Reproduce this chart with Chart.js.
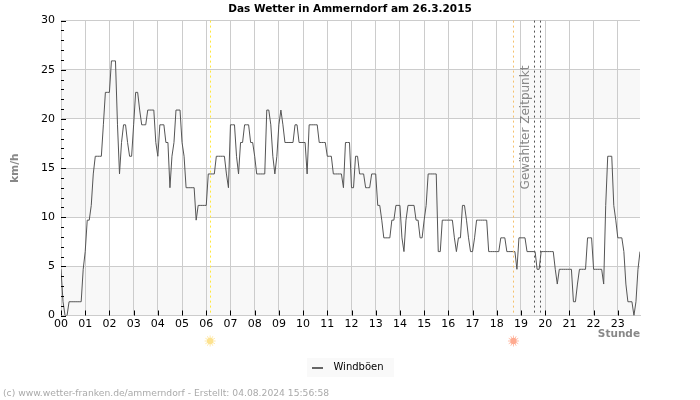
<!DOCTYPE html>
<html>
<head>
<meta charset="utf-8">
<title>Das Wetter in Ammerndorf</title>
<script src="https://cdn.jsdelivr.net/npm/chart.js@4"></script>
<style>
  html, body { margin: 0; padding: 0; background: #fff; }
  canvas { display: block; }
</style>
</head>
<body>
<canvas id="wetterChart" width="700" height="400"></canvas>
<script>
// Windboeen, one row per hour, 5 minute samples (km/h)
const windboeen = [
  4.7,1.4,0,0,1.4,1.4,1.4,1.4,1.4,1.4,1.4,4.7,
  6.5,9.7,9.7,11.2,14.4,16.2,16.2,16.2,16.2,19.4,22.7,22.7,
  22.7,25.9,25.9,25.9,19.4,14.4,17.6,19.4,19.4,17.6,16.2,16.2,
  19.4,22.7,22.7,20.9,19.4,19.4,19.4,20.9,20.9,20.9,20.9,17.6,
  16.2,19.4,19.4,19.4,17.6,17.6,13,16.2,17.6,20.9,20.9,20.9,
  17.6,16.2,13,13,13,13,13,9.7,11.2,11.2,11.2,11.2,
  11.2,14.4,14.4,14.4,14.4,16.2,16.2,16.2,16.2,16.2,14.4,13,
  19.4,19.4,19.4,16.2,14.4,17.6,17.6,19.4,19.4,19.4,17.6,17.6,
  16.2,14.4,14.4,14.4,14.4,14.4,20.9,20.9,19.4,16.2,14.4,16.2,
  19.4,20.9,19.4,17.6,17.6,17.6,17.6,17.6,19.4,19.4,17.6,17.6,
  17.6,17.6,14.4,19.4,19.4,19.4,19.4,19.4,17.6,17.6,17.6,17.6,
  16.2,16.2,16.2,14.4,14.4,14.4,14.4,14.4,13,17.6,17.6,17.6,
  13,13,16.2,16.2,14.4,14.4,14.4,13,13,13,14.4,14.4,
  14.4,11.2,11.2,9.7,7.9,7.9,7.9,7.9,9.7,9.7,11.2,11.2,
  11.2,7.9,6.5,9.7,11.2,11.2,11.2,11.2,9.7,9.7,7.9,7.9,
  9.7,11.2,14.4,14.4,14.4,14.4,14.4,6.5,6.5,9.7,9.7,9.7,
  9.7,9.7,9.7,7.9,6.5,7.9,7.9,11.2,11.2,9.7,7.9,6.5,
  6.5,7.9,9.7,9.7,9.7,9.7,9.7,9.7,6.5,6.5,6.5,6.5,
  6.5,6.5,7.9,7.9,7.9,6.5,6.5,6.5,6.5,6.5,4.7,7.9,
  7.9,7.9,7.9,6.5,6.5,6.5,6.5,6.5,4.7,4.7,6.5,6.5,
  6.5,6.5,6.5,6.5,6.5,4.7,3.2,4.7,4.7,4.7,4.7,4.7,
  4.7,4.7,1.4,1.4,3.2,4.7,4.7,4.7,4.7,7.9,7.9,7.9,
  4.7,4.7,4.7,4.7,4.7,3.2,11.2,16.2,16.2,16.2,11.2,9.7,
  7.9,7.9,7.9,6.5,3.2,1.4,1.4,1.4,0,1.4,4.7,6.5
];
const samplesPerHour = 12;
const hourLabels = ['00','01','02','03','04','05','06','07','08','09','10','11',
                    '12','13','14','15','16','17','18','19','20','21','22','23'];
const yTicks = [0, 5, 10, 15, 20, 25, 30];
const shadedBands = [[0, 5], [10, 15], [20, 25]];

// Zeiten der senkrechten Linien (Stunde)
const sonnenaufgang = 6.16;
const sonnenuntergang = 18.69;
const zeitpunktVon = 19.52;
const zeitpunktBis = 19.78;

const points = windboeen.map((v, i) => ({ x: i / samplesPerHour, y: v }));

function drawSun(ctx, x, y, color) {
  ctx.save();
  ctx.strokeStyle = color;
  ctx.fillStyle = color;
  ctx.globalAlpha = 0.75;
  ctx.lineWidth = 1;
  for (let a = 0; a < 12; a++) {
    const ang = a * Math.PI / 6;
    ctx.beginPath();
    ctx.moveTo(x + Math.cos(ang) * 3, y + Math.sin(ang) * 3);
    ctx.lineTo(x + Math.cos(ang) * 5.5, y + Math.sin(ang) * 5.5);
    ctx.stroke();
  }
  ctx.globalAlpha = 1;
  ctx.beginPath();
  ctx.arc(x, y, 3.2, 0, Math.PI * 2);
  ctx.fill();
  ctx.restore();
}

function vLine(chart, hour, color) {
  const ctx = chart.ctx, a = chart.chartArea;
  const x = Math.round(chart.scales.x.getPixelForValue(hour)) + 0.5;
  ctx.save();
  ctx.strokeStyle = color;
  ctx.lineWidth = 1;
  ctx.setLineDash([2, 3]);
  ctx.beginPath();
  ctx.moveTo(x, a.top);
  ctx.lineTo(x, a.bottom);
  ctx.stroke();
  ctx.restore();
}

const bandsPlugin = {
  id: 'bands',
  afterLayout(chart) {
    // Titel und Legende mittig ueber die ganze Breite, nicht nur den Plot
    const t = chart.titleBlock, l = chart.legend;
    t.left += 30; t.right += 30; t.top += 1;
    l.left += 30; l.right += 30; l.top = 357; l.bottom = 378;
  },
  beforeDraw(chart) {
    const ctx = chart.ctx, a = chart.chartArea, y = chart.scales.y;
    ctx.save();
    ctx.fillStyle = '#ffffff';
    ctx.fillRect(0, 0, chart.width, chart.height);
    ctx.fillStyle = '#f8f8f8';
    for (const b of shadedBands) {
      const top = y.getPixelForValue(b[1]), bottom = y.getPixelForValue(b[0]);
      ctx.fillRect(a.left, top, a.right - a.left, bottom - top);
    }
    // Legendenkasten
    ctx.fillStyle = '#f9f9f9';
    ctx.fillRect(307, 358, 87, 19);
    ctx.restore();
  }
};

const extrasPlugin = {
  id: 'extras',
  afterDatasetsDraw(chart) {
    const ctx = chart.ctx, a = chart.chartArea, xs = chart.scales.x, ys = chart.scales.y;
    vLine(chart, sonnenaufgang, '#ffe838');
    vLine(chart, sonnenuntergang, '#f5c16c');
    vLine(chart, zeitpunktVon, '#555555');
    vLine(chart, zeitpunktBis, '#555555');

    // Striche nach innen
    ctx.save();
    ctx.strokeStyle = '#000';
    ctx.lineWidth = 1;
    ctx.beginPath();
    for (let v = 0; v <= 30; v++) {
      const py = Math.round(ys.getPixelForValue(v)) + 0.5;
      ctx.moveTo(a.left, py);
      ctx.lineTo(a.left + (v % 5 === 0 ? 5 : 3), py);
    }
    hourLabels.forEach((_, h) => {
      const px = Math.round(xs.getPixelForValue(h)) + 0.5;
      ctx.moveTo(px, a.bottom);
      ctx.lineTo(px, a.bottom - 5);
    });
    ctx.stroke();

    // Gewaehlter Zeitpunkt
    ctx.translate(xs.getPixelForValue(19.19), 127.5);
    ctx.rotate(-Math.PI / 2);
    ctx.fillStyle = '#888888';
    ctx.font = '12px "DejaVu Sans"';
    ctx.textAlign = 'center';
    ctx.textBaseline = 'middle';
    ctx.fillText('Gewählter Zeitpunkt', 0, 0);
    ctx.restore();

    drawSun(ctx, xs.getPixelForValue(sonnenaufgang), 341, '#fde28f');
    drawSun(ctx, xs.getPixelForValue(sonnenuntergang), 341, '#ffab91');

    ctx.save();
    // Legendenstrich
    ctx.fillStyle = '#666666';
    ctx.fillRect(312, 367, 11, 2);
    // Fusszeile
    ctx.fillStyle = '#aaaaaa';
    ctx.font = '9.2px "DejaVu Sans"';
    ctx.textAlign = 'left';
    ctx.textBaseline = 'middle';
    ctx.fillText('(c) www.wetter-franken.de/ammerndorf - Erstellt: 04.08.2024 15:56:58', 3, 393.5);
    ctx.restore();
  }
};

new Chart(document.getElementById('wetterChart'), {
  type: 'line',
  data: {
    datasets: [{
      label: 'Windböen',
      data: points,
      borderColor: '#555555',
      backgroundColor: '#555555',
      borderWidth: 1,
      pointRadius: 0,
      tension: 0
    }]
  },
  options: {
    responsive: false,
    animation: false,
    layout: { padding: { top: 0, left: 0, right: 60, bottom: 34.5 } },
    plugins: {
      title: {
        display: true,
        text: 'Das Wetter in Ammerndorf am 26.3.2015',
        color: '#000',
        font: { family: 'DejaVu Sans', size: 10.5, weight: 'bold' },
        padding: { top: 2, bottom: 6 }
      },
      legend: {
        display: true,
        position: 'bottom',
        labels: {
          color: '#000',
          font: { family: 'DejaVu Sans', size: 10 },
          boxWidth: 12,
          boxHeight: 2,
          padding: 5,
          generateLabels(chart) {
            return Chart.defaults.plugins.legend.labels.generateLabels(chart).map(item => {
              item.fillStyle = 'rgba(0,0,0,0)';
              item.strokeStyle = 'rgba(0,0,0,0)';
              return item;
            });
          }
        }
      },
      tooltip: { enabled: false }
    },
    scales: {
      x: {
        type: 'linear',
        min: 0,
        max: (windboeen.length - 1) / samplesPerHour,
        grid: { color: '#cccccc', drawTicks: false },
        border: { color: '#cccccc' },
        ticks: {
          stepSize: 1,
          includeBounds: false,
          autoSkip: false,
          maxRotation: 0,
          padding: 2,
          color: '#000',
          font: { family: 'DejaVu Sans', size: 11 },
          callback: v => hourLabels[v]
        },
        title: {
          display: true,
          text: 'Stunde',
          align: 'end',
          color: '#888888',
          font: { family: 'DejaVu Sans', size: 10.5, weight: 'bold' },
          padding: { top: 0, bottom: 0 }
        },
        afterFit(scale) { scale.height = 25; }
      },
      y: {
        min: 0,
        max: 30,
        grid: { color: '#cccccc', drawTicks: false },
        border: { color: '#cccccc' },
        afterBuildTicks(scale) { scale.ticks = yTicks.map(v => ({ value: v })); },
        ticks: {
          padding: 6,
          color: '#000',
          font: { family: 'DejaVu Sans', size: 11 }
        },
        title: {
          display: true,
          text: 'km/h',
          color: '#888888',
          font: { family: 'DejaVu Sans', size: 10.5, weight: 'bold' },
          padding: { top: 9, bottom: 0 }
        },
        afterFit(scale) { scale.width = 61; }
      }
    }
  },
  plugins: [bandsPlugin, extrasPlugin]
});
</script>
</body>
</html>
